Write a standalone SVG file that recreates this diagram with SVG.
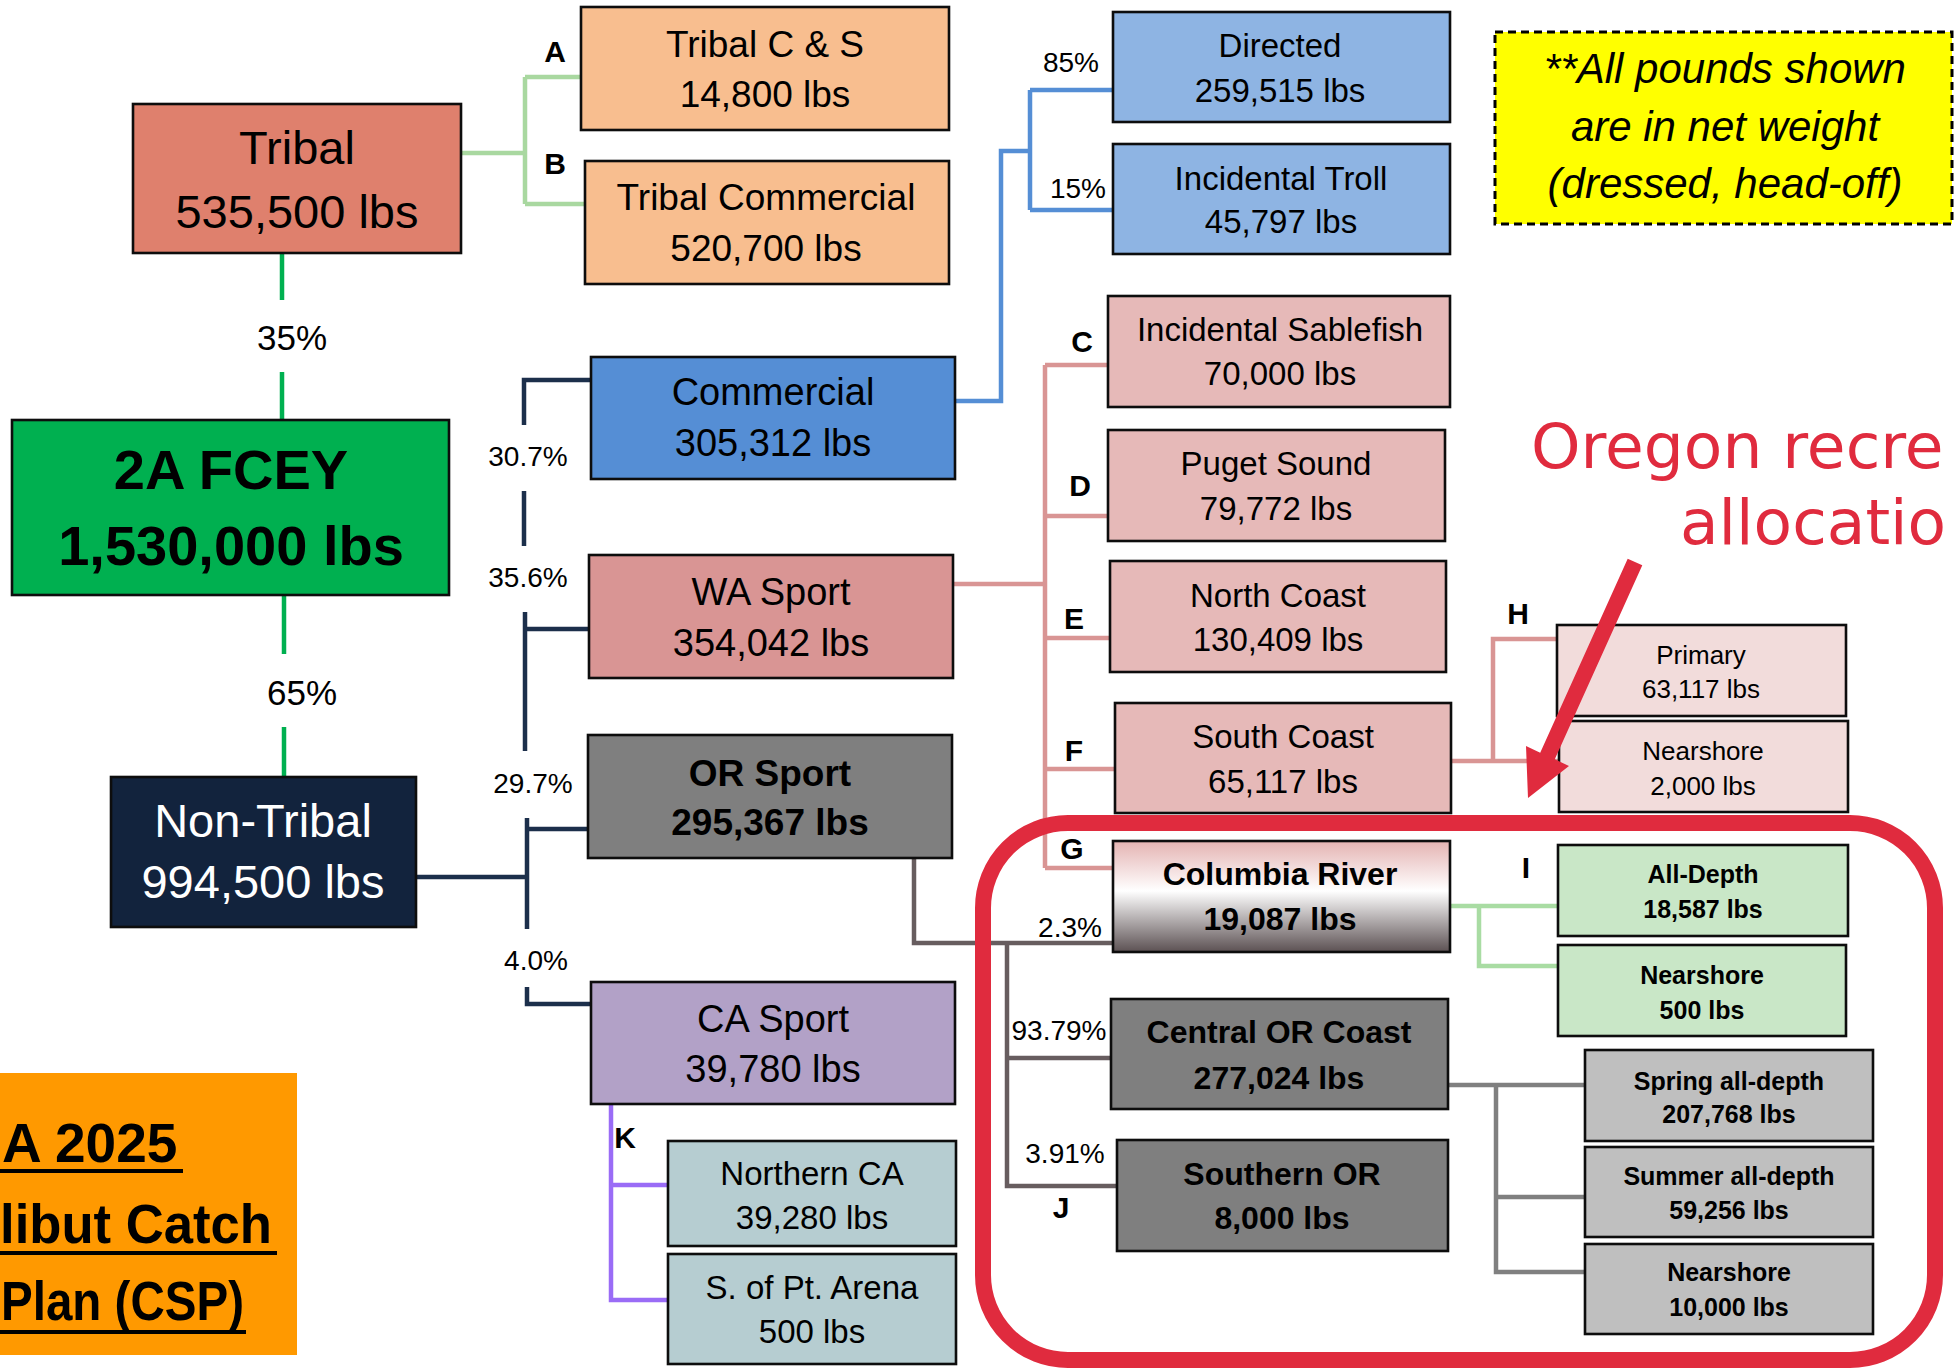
<svg xmlns="http://www.w3.org/2000/svg" width="1954" height="1368" viewBox="0 0 1954 1368">
<style>
text{font-family:"Liberation Sans",Arial,sans-serif;fill:#000;text-anchor:middle}
.b{stroke:#0d0d0d;stroke-width:2.6}
.c{fill:none;stroke-width:4.5;stroke-linejoin:miter;stroke-linecap:butt}
.t47{font-size:47px}.t37{font-size:37px}.t38{font-size:38px}.t33{font-size:33px}.t26{font-size:26px}
.bd{font-weight:bold}
.lt{font-size:30px;font-weight:bold}
.pc{font-size:28px}
</style>
<defs>
<linearGradient id="colgrad" x1="0" y1="0" x2="0" y2="1">
<stop offset="0" stop-color="#E4B3B2"/>
<stop offset="0.45" stop-color="#FFFFFF"/>
<stop offset="1" stop-color="#5C5153"/>
</linearGradient>
</defs>

<g id="connectors">
<path class="c" stroke="#A9D8A0" d="M461 153 H525 M525 77 V204 M525 77 H581 M525 204 H586"/>
<path class="c" stroke="#00B050" stroke-width="5" d="M282 253 V300 M282 372 V420 M284 595 V654 M284 727 V777"/>
<path class="c" stroke="#1C2F4B" d="M591 380 H524 V425 M524 491 V546 M525 612 V751 M525 629 H589 M527 818 V929 M527 829 H588 M416 877 H527 M527 987 V1004 H591"/>
<path class="c" stroke="#558ED5" d="M955 401 H1001 V151 H1030 M1030 90 V210 M1030 90 H1113 M1030 210 H1113"/>
<path class="c" stroke="#D99594" d="M953 584 H1045 M1045 365 V868 M1045 365 H1108 M1045 516 H1108 M1045 638 H1110 M1045 769 H1115 M1045 868 H1113"/>
<path class="c" stroke="#D99594" d="M1451 761 H1493 V639 H1557 M1493 761 H1559"/>
<path class="c" stroke="#675D5F" d="M914 858 V943 H1113 M1007 943 V1186 H1117 M1007 1058 H1111"/>
<path class="c" stroke="#A9DCA3" d="M1450 906 H1479 V966 H1558 M1479 906 H1558"/>
<path class="c" stroke="#808080" d="M1448 1085 H1496 V1272 H1584 M1496 1085 H1584 M1496 1197 H1584"/>
<path class="c" stroke="#9A6CF6" d="M611 1104 V1300 H668 M611 1185 H668"/>
</g>

<g id="labels">
<text class="pc" style="font-size:35px" x="292" y="350">35%</text>
<text class="pc" style="font-size:35px" x="302" y="705">65%</text>
<text class="pc" x="528" y="466">30.7%</text>
<text class="pc" x="528" y="587">35.6%</text>
<text class="pc" x="533" y="793">29.7%</text>
<text class="pc" x="536" y="970">4.0%</text>
<text class="pc" x="1071" y="72">85%</text>
<text class="pc" x="1078" y="198">15%</text>
<text class="pc" x="1070" y="937">2.3%</text>
<text class="pc" x="1059" y="1040">93.79%</text>
<text class="pc" x="1065" y="1163">3.91%</text>
<text class="lt" x="555" y="62">A</text>
<text class="lt" x="555" y="174">B</text>
<text class="lt" x="1082" y="352">C</text>
<text class="lt" x="1080" y="496">D</text>
<text class="lt" x="1074" y="629">E</text>
<text class="lt" x="1074" y="761">F</text>
<text class="lt" x="1072" y="859">G</text>
<text class="lt" x="1518" y="624">H</text>
<text class="lt" x="1526" y="878">I</text>
<text class="lt" x="1061" y="1218">J</text>
<text class="lt" x="625" y="1148">K</text>
</g>

<g id="frame">
<rect x="983" y="823" width="952" height="537" rx="85" ry="85" fill="none" stroke="#E02B3E" stroke-width="16"/>
</g>

<g id="n-tribal"><rect class="b" x="133" y="104" width="328" height="149" fill="#DF806D"/>
<text class="t47" x="297" y="164">Tribal</text><text class="t47" x="297" y="228">535,500 lbs</text></g>

<g id="n-tribal-cs"><rect class="b" x="581" y="7" width="368" height="123" fill="#F8BE8F"/>
<text class="t37" x="765" y="57">Tribal C &amp; S</text><text class="t37" x="765" y="107">14,800 lbs</text></g>

<g id="n-tribal-comm"><rect class="b" x="585" y="161" width="364" height="123" fill="#F8BE8F"/>
<text class="t37" x="766" y="210">Tribal Commercial</text><text class="t37" x="766" y="261">520,700 lbs</text></g>

<g id="n-fcey"><rect class="b" x="12" y="420" width="437" height="175" fill="#00B050" stroke-width="3"/>
<text class="bd" style="font-size:56px" x="231" y="489">2A FCEY</text><text class="bd" style="font-size:56px" x="231" y="565">1,530,000 lbs</text></g>

<g id="n-nontribal"><rect class="b" x="111" y="777" width="305" height="150" fill="#12233D"/>
<text class="t47" style="fill:#fff" x="263" y="837">Non-Tribal</text><text class="t47" style="fill:#fff" x="263" y="898">994,500 lbs</text></g>

<g id="n-commercial"><rect class="b" x="591" y="357" width="364" height="122" fill="#558ED5"/>
<text class="t38" x="773" y="405">Commercial</text><text class="t38" x="773" y="456">305,312 lbs</text></g>

<g id="n-wasport"><rect class="b" x="589" y="555" width="364" height="123" fill="#D99594"/>
<text class="t38" x="771" y="605">WA Sport</text><text class="t38" x="771" y="656">354,042 lbs</text></g>

<g id="n-orsport"><rect class="b" x="588" y="735" width="364" height="123" fill="#7F7F7F"/>
<text class="t37 bd" x="770" y="786">OR Sport</text><text class="t37 bd" x="770" y="835">295,367 lbs</text></g>

<g id="n-casport"><rect class="b" x="591" y="982" width="364" height="122" fill="#B2A1C7"/>
<text class="t38" x="773" y="1032">CA Sport</text><text class="t38" x="773" y="1082">39,780 lbs</text></g>

<g id="n-northernca"><rect class="b" x="668" y="1141" width="288" height="105" fill="#B6CDD1"/>
<text class="t33" x="812" y="1185">Northern CA</text><text class="t33" x="812" y="1229">39,280 lbs</text></g>

<g id="n-ptarena"><rect class="b" x="668" y="1254" width="288" height="110" fill="#B6CDD1"/>
<text class="t33" x="812" y="1299">S. of Pt. Arena</text><text class="t33" x="812" y="1343">500 lbs</text></g>

<g id="n-directed"><rect class="b" x="1113" y="12" width="337" height="110" fill="#8EB4E3"/>
<text class="t33" x="1280" y="57">Directed</text><text class="t33" x="1280" y="102">259,515 lbs</text></g>

<g id="n-troll"><rect class="b" x="1113" y="144" width="337" height="110" fill="#8EB4E3"/>
<text class="t33" x="1281" y="190">Incidental Troll</text><text class="t33" x="1281" y="233">45,797 lbs</text></g>

<g id="n-sablefish"><rect class="b" x="1108" y="296" width="342" height="111" fill="#E6B9B8"/>
<text class="t33" x="1280" y="341">Incidental Sablefish</text><text class="t33" x="1280" y="385">70,000 lbs</text></g>

<g id="n-puget"><rect class="b" x="1108" y="430" width="337" height="111" fill="#E6B9B8"/>
<text class="t33" x="1276" y="475">Puget Sound</text><text class="t33" x="1276" y="520">79,772 lbs</text></g>

<g id="n-northcoast"><rect class="b" x="1110" y="561" width="336" height="111" fill="#E6B9B8"/>
<text class="t33" x="1278" y="607">North Coast</text><text class="t33" x="1278" y="651">130,409 lbs</text></g>

<g id="n-southcoast"><rect class="b" x="1115" y="703" width="336" height="110" fill="#E6B9B8"/>
<text class="t33" x="1283" y="748">South Coast</text><text class="t33" x="1283" y="793">65,117 lbs</text></g>

<g id="n-primary"><rect class="b" x="1557" y="625" width="289" height="91" fill="#F2DCDB"/>
<text class="t26" x="1701" y="664">Primary</text><text class="t26" x="1701" y="698">63,117 lbs</text></g>

<g id="n-nearshore-sc"><rect class="b" x="1559" y="721" width="289" height="91" fill="#F2DCDB"/>
<text class="t26" x="1703" y="760">Nearshore</text><text class="t26" x="1703" y="795">2,000 lbs</text></g>

<g id="n-columbia"><rect class="b" x="1113" y="841" width="337" height="111" fill="url(#colgrad)"/>
<text class="bd" style="font-size:32px" x="1280" y="885">Columbia River</text><text class="bd" style="font-size:32px" x="1280" y="930">19,087 lbs</text></g>

<g id="n-alldepth"><rect class="b" x="1558" y="845" width="290" height="91" fill="#C9E7C7"/>
<text class="bd" style="font-size:25px" x="1703" y="883">All-Depth</text><text class="bd" style="font-size:25px" x="1703" y="918">18,587 lbs</text></g>

<g id="n-nearshore-cr"><rect class="b" x="1558" y="945" width="288" height="91" fill="#C9E7C7"/>
<text class="bd" style="font-size:25px" x="1702" y="984">Nearshore</text><text class="bd" style="font-size:25px" x="1702" y="1019">500 lbs</text></g>

<g id="n-central"><rect class="b" x="1111" y="999" width="337" height="110" fill="#7F7F7F"/>
<text class="bd" style="font-size:32px" x="1279" y="1043">Central OR Coast</text><text class="bd" style="font-size:32px" x="1279" y="1089">277,024 lbs</text></g>

<g id="n-southern"><rect class="b" x="1117" y="1140" width="331" height="111" fill="#7F7F7F"/>
<text class="bd" style="font-size:32px" x="1282" y="1185">Southern OR</text><text class="bd" style="font-size:32px" x="1282" y="1229">8,000 lbs</text></g>

<g id="n-spring"><rect class="b" x="1585" y="1050" width="288" height="91" fill="#BFBFBF"/>
<text class="bd" style="font-size:25px" x="1729" y="1090">Spring all-depth</text><text class="bd" style="font-size:25px" x="1729" y="1123">207,768 lbs</text></g>

<g id="n-summer"><rect class="b" x="1585" y="1147" width="288" height="90" fill="#BFBFBF"/>
<text class="bd" style="font-size:25px" x="1729" y="1185">Summer all-depth</text><text class="bd" style="font-size:25px" x="1729" y="1219">59,256 lbs</text></g>

<g id="n-nearshore-cen"><rect class="b" x="1585" y="1244" width="288" height="90" fill="#BFBFBF"/>
<text class="bd" style="font-size:25px" x="1729" y="1281">Nearshore</text><text class="bd" style="font-size:25px" x="1729" y="1316">10,000 lbs</text></g>

<g id="note">
<rect x="1495" y="32" width="457" height="192" fill="#FFFF00" stroke="#000" stroke-width="3" stroke-dasharray="8 5"/>
<text style="font-size:42px;font-style:italic" x="1725" y="83">**All pounds shown</text>
<text style="font-size:42px;font-style:italic" x="1725" y="141">are in net weight</text>
<text style="font-size:42px;font-style:italic" x="1725" y="198">(dressed, head-off)</text>
</g>

<g id="title">
<rect x="0" y="1073" width="297" height="282" fill="#FF9900"/>
<text class="bd" style="font-size:55px;text-anchor:start" x="2" y="1162">A 2025</text>
<text class="bd" style="font-size:55px;text-anchor:start" x="0" y="1243" textLength="272" lengthAdjust="spacingAndGlyphs">libut Catch</text>
<text class="bd" style="font-size:55px;text-anchor:start" x="1" y="1320" textLength="243" lengthAdjust="spacingAndGlyphs">Plan (CSP)</text>
<rect x="0" y="1169" width="183" height="4" fill="#000"/>
<rect x="0" y="1251" width="277" height="4" fill="#000"/>
<rect x="0" y="1330" width="246" height="4" fill="#000"/>
</g>

<g id="callout">
<text style="font-family:'DejaVu Sans',sans-serif;font-size:63px;fill:#E02B3E;text-anchor:start" x="1531" y="468">Oregon recre</text>
<text style="font-family:'DejaVu Sans',sans-serif;font-size:63px;fill:#E02B3E;text-anchor:start" x="1680" y="544">allocatio</text>
<polygon fill="#E02B3E" points="1627.7,558.7 1642.3,565.3 1554.8,759.3 1569,766 1528,798 1526,746 1540.2,752.7"/>
</g>
</svg>
